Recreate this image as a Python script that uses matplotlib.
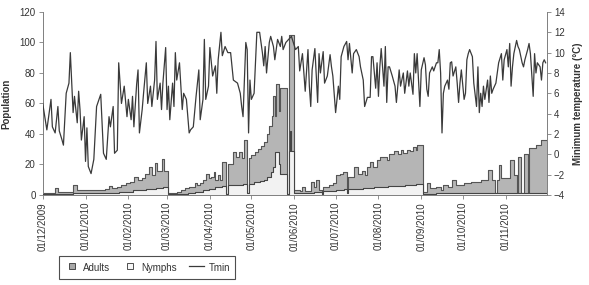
import matplotlib
matplotlib.use("Agg")
import matplotlib.pyplot as plt
import matplotlib.dates as mdates
from matplotlib.lines import Line2D
import numpy as np
import pandas as pd

plt.rcParams['font.family'] = ['Liberation Sans Narrow', 'Liberation Sans', 'DejaVu Sans']

# Días contados desde el 01/12/2009
inicio = pd.Timestamp("2009-12-01")
fin = pd.Timestamp("2010-12-01")

# Temperatura mínima (°C)
tmin_dia = [0, 3, 6, 7, 9, 11, 12, 14, 15, 17, 19, 20, 22, 23, 25, 26, 27, 28, 30, 31,
            32, 33, 35, 37, 39, 42, 43, 44, 46, 48, 49, 51, 52, 54, 55, 57, 59, 61, 62, 64,
            65, 66, 68, 69, 70, 72, 73, 75, 76, 78, 79, 81, 82, 83, 85, 86, 87, 89, 90, 91,
            92, 94, 95, 96, 97, 99, 101, 102, 104, 106, 107, 109, 111, 113, 114, 116, 117, 118, 120, 121,
            123, 125, 126, 127, 129, 130, 132, 134, 136, 138, 141, 143, 144, 145, 147, 148, 149, 150, 151, 153,
            155, 157, 159, 160, 161, 162, 164, 165, 167, 168, 170, 172, 173, 174, 176, 178,
            180, 183, 185, 186, 188, 190, 192, 193, 194, 195, 197, 199, 200, 201, 203, 204, 206, 208, 209, 210,
            212, 214, 215, 216, 218, 220, 221, 222, 224, 225, 227, 229, 230, 232, 233, 235, 237, 238, 239, 241,
            242, 243, 244, 245, 247, 248, 249, 250, 251, 253, 255, 256, 258, 259, 261, 262, 264, 265, 266, 268,
            269, 270, 271, 273, 274, 276, 277, 278, 279, 280, 282, 283, 285, 286, 287, 288, 289, 290, 291, 293,
            294, 295, 296, 297, 299, 300, 301, 302, 303, 305, 306, 307, 308, 309, 311, 312, 314, 315, 316, 317,
            318, 319, 320, 322, 323, 324, 325, 326, 328, 329, 330, 332, 333, 334, 336, 337, 338, 339, 340, 341,
            343, 344, 345, 347, 348, 349, 351, 352, 353, 355, 356, 357, 358, 360, 361, 362, 363, 364]
tmin_val = [5.0, 2.4, 5.4, 2.7, 2.1, 4.7, 2.3, 1.4, 0.9, 6.0, 7.0, 10.0, 4.1, 5.7, 3.1, 6.2, 4.4, 1.4, 3.7, -0.7,
            2.6, -1.2, -1.9, -0.5, 4.7, 5.9, 3.1, 0.1, -0.5, 3.7, 2.7, 4.7, 0.1, 0.4, 9.0, 5.0, 6.7, 3.7, 5.4, 3.4,
            5.7, 2.7, 6.9, 8.3, 2.1, 4.4, 6.0, 9.0, 5.0, 6.7, 4.7, 7.3, 11.1, 5.4, 7.0, 4.4, 7.0, 10.5, 4.4, 6.7,
            3.4, 7.0, 4.7, 10.0, 7.3, 9.0, 4.4, 6.0, 5.4, 2.1, 2.4, 2.7, 5.7, 8.3, 3.4, 5.4, 11.3, 5.4, 6.7, 10.5,
            7.7, 8.7, 6.0, 9.3, 12.0, 9.7, 10.6, 10.0, 10.0, 7.3, 7.0, 6.0, 4.7, 3.7, 11.0, 10.3, 2.1, 7.3, 5.4, 6.0,
            12.0, 12.0, 10.0, 8.7, 10.6, 8.0, 11.0, 11.6, 10.6, 9.3, 11.3, 10.6, 11.6, 10.3, 11.0, 11.3,
            11.6, 10.3, 10.6, 8.2, 9.9, 6.2, 10.3, 6.7, 4.7, 8.3, 10.4, 5.1, 9.9, 8.0, 10.1, 7.0, 7.7, 9.8, 8.6, 7.7,
            4.1, 6.7, 5.4, 9.6, 10.6, 11.1, 9.3, 10.9, 8.0, 9.9, 10.3, 9.6, 8.6, 7.3, 4.7, 5.6, 5.6, 9.6, 9.6, 6.5,
            9.0, 5.7, 8.6, 10.4, 6.7, 10.6, 5.1, 8.6, 8.6, 7.7, 6.7, 5.1, 8.3, 6.7, 8.0, 6.0, 8.2, 6.7, 8.0, 5.9,
            9.9, 8.0, 9.9, 4.7, 8.3, 9.5, 8.8, 6.4, 5.7, 8.0, 8.6, 8.2, 9.0, 9.0, 10.3, 8.0, 2.1, 6.0, 6.7, 7.3,
            6.4, 9.0, 9.1, 7.7, 8.6, 7.0, 5.1, 7.0, 8.3, 5.4, 6.0, 9.3, 9.9, 10.3, 9.6, 7.0, 4.7, 8.6, 4.1, 6.0,
            4.7, 6.7, 5.4, 7.3, 5.1, 7.7, 6.0, 6.4, 7.0, 8.0, 9.0, 9.9, 7.3, 9.3, 10.3, 8.6, 10.9, 6.7, 8.6, 9.9,
            11.2, 10.6, 10.3, 9.0, 8.6, 9.3, 10.3, 10.9, 9.9, 5.7, 9.9, 8.0, 9.0, 8.6, 7.3, 9.0, 9.3, 9.0]

# Adultos (población)
adultos_dia = [0, 9, 11, 22, 25, 40, 45, 48, 50, 54, 57, 60, 63, 66, 69, 72, 74, 77, 79, 81,
               83, 86, 88, 91, 97, 100, 103, 106, 110, 112, 114, 116, 118, 120, 122, 124, 125, 127, 128, 130,
               133, 134, 138, 140, 142, 144, 146, 148, 149, 151, 154, 156, 158, 160, 162, 164, 166, 167, 168, 169,
               171, 172, 177, 178, 182, 186, 188, 190, 194, 196, 198, 200, 202, 203, 207, 210, 212, 215, 217, 220,
               221, 225, 228, 231, 233, 235, 237, 239, 242, 244, 249, 251, 254, 257, 259, 261, 264, 266, 268, 270,
               271, 275, 278, 280, 285, 288, 290, 293, 296, 299, 302, 305, 310, 317, 322, 325, 327, 329, 330, 332,
               338, 341, 343, 344, 346, 348, 351, 352, 357, 361, 365]
adultos_val = [1.1, 4.4, 2.2, 6.5, 3.1, 3.5, 4.0, 6.0, 4.5, 5.5, 6.5, 8.0, 8.7, 12.0, 10.0, 11.0, 13.5, 18.6, 13.0, 21.0,
               15.5, 23.5, 15.6, 1.1, 2.0, 3.0, 4.4, 5.5, 7.6, 6.5, 7.6, 9.8, 14.0, 11.0, 12.0, 14.8, 10.0, 13.0, 10.0, 21.9,
               0.5, 20.5, 28.4, 25.0, 28.0, 24.0, 36.0, 1.0, 24.0, 26.0, 28.0, 30.0, 32.0, 35.0, 40.0, 45.0, 52.0, 65.0, 52.0, 73.0,
               55.0, 70.0, 0.5, 105.0, 3.0, 2.5, 5.0, 2.5, 8.7, 5.5, 9.8, 3.0, 0.5, 5.5, 6.5, 7.6, 13.0, 14.0, 15.0, 1.0,
               12.0, 18.6, 14.0, 16.0, 13.0, 18.6, 21.9, 18.6, 23.0, 25.0, 23.0, 27.0, 28.5, 27.0, 29.5, 27.5, 29.5, 28.5, 31.7, 29.5,
               33.0, 2.0, 7.6, 4.4, 5.5, 3.0, 6.5, 5.5, 9.8, 6.5, 6.5, 7.6, 8.7, 9.8, 16.4, 10.0, 1.0, 10.0, 19.7, 11.0,
               23.0, 13.0, 1.0, 25.0, 1.0, 27.0, 1.0, 30.6, 33.0, 36.0, 36.0]

# Ninfas (población)
ninfas_dia = [0, 22, 40, 55, 65, 75, 82, 87, 91, 100, 105, 110, 116, 120, 125, 130, 133, 134, 145, 148,
              149, 153, 157, 160, 162, 165, 167, 168, 171, 172, 177, 178, 179, 180, 182, 196, 202, 203, 212, 218,
              220, 221, 232, 240, 250, 262, 270, 275, 285, 300, 320, 335, 345, 355, 365]
ninfas_val = [0.5, 1.0, 1.5, 2.2, 3.0, 3.7, 4.4, 5.5, 0.3, 0.5, 1.0, 2.2, 3.0, 3.7, 5.5, 6.0, 0.5, 6.5, 7.0, 1.0,
              7.5, 8.5, 9.0, 10.0, 12.0, 15.0, 18.0, 28.0, 20.0, 14.0, 0.5, 29.0, 42.0, 29.0, 1.5, 2.2, 0.5, 2.5, 3.0, 3.7,
              1.0, 3.7, 4.4, 5.5, 6.0, 6.5, 7.2, 0.8, 1.0, 1.2, 1.4, 1.0, 1.5, 1.2, 1.2]


def fechas(dias):
    return inicio + pd.to_timedelta(np.array(dias), unit="D")


meses = pd.date_range("2009-12-01", "2010-11-01", freq="MS")

gris_txt = "#333333"
gris_eje = "#7f7f7f"

fig = plt.figure(figsize=(5.89, 2.85), dpi=100)
ax = fig.add_axes([0.0725, 0.316, 0.8562, 0.642])

# Areas de poblacion (escalones)
xa = fechas(adultos_dia)
xn = fechas(ninfas_dia)
ax.fill_between(xa, 0, adultos_val, step="post", color="#b5b5b5", lw=0, zorder=1)
ax.step(xa, adultos_val, where="post", color="#555555", lw=0.8, zorder=2)
ax.fill_between(xn, 0, ninfas_val, step="post", color="#f2f2f2", lw=0, zorder=3)
ax.step(xn, ninfas_val, where="post", color="#444444", lw=0.8, zorder=4)

ax.set_xlim(inicio, fin)
ax.set_ylim(0, 120)
ax.set_yticks(range(0, 121, 20))
ax.set_xticks(meses)
ax.xaxis.set_major_formatter(mdates.DateFormatter("%d/%m/%Y"))
ax.tick_params(axis="x", labelrotation=90, labelsize=7, colors=gris_txt, length=3, width=0.6, pad=2, color=gris_eje)
ax.tick_params(axis="y", labelsize=7, colors=gris_txt, length=3, width=0.6, pad=2, color=gris_eje)
ax.set_ylabel("Population", fontsize=7, fontweight="bold", color=gris_txt, labelpad=6)
ax.spines["top"].set_visible(False)
ax.spines["right"].set_visible(False)
for s in ["left", "bottom"]:
    ax.spines[s].set_color(gris_eje)
    ax.spines[s].set_linewidth(0.7)

# Temperatura minima en eje derecho
ax2 = ax.twinx()
ax2.plot(fechas(tmin_dia), tmin_val, color="#3a3a3a", lw=0.9, zorder=5)
ax2.set_ylim(-4, 14)
ax2.set_yticks(range(-4, 15, 2))
ax2.tick_params(axis="y", labelsize=7, colors=gris_txt, length=3, width=0.6, pad=2, color=gris_eje)
ax2.set_ylabel("Minimum temperature (°C)", fontsize=7, fontweight="bold", color=gris_txt, labelpad=6)
ax2.spines["top"].set_visible(False)
ax2.spines["left"].set_visible(False)
ax2.spines["bottom"].set_visible(False)
ax2.spines["right"].set_color(gris_eje)
ax2.spines["right"].set_linewidth(0.7)

# Leyenda (cuadrados pequeños como en el original)
handles = [Line2D([], [], marker="s", ls="none", markersize=5, markerfacecolor="#a8a8a8",
                  markeredgecolor="#333333", markeredgewidth=0.6, label="Adults"),
           Line2D([], [], marker="s", ls="none", markersize=5, markerfacecolor="#f7f7f7",
                  markeredgecolor="#333333", markeredgewidth=0.6, label="Nymphs"),
           Line2D([0], [0], color="#3a3a3a", lw=0.9, label="Tmin")]
leg = fig.legend(handles=handles, loc="lower left", bbox_to_anchor=(0.092, 0.005), ncol=3,
                 fontsize=7, frameon=True, fancybox=False, edgecolor="#222222",
                 handlelength=1.6, handleheight=1.6, columnspacing=1.2, handletextpad=0.4,
                 borderpad=0.5)
leg.get_frame().set_linewidth(0.8)
for t in leg.get_texts():
    t.set_color(gris_txt)

fig.savefig("out.png", dpi=100)
